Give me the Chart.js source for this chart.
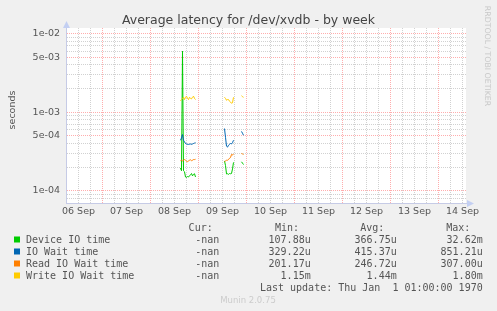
<!DOCTYPE html>
<html>
<head>
<meta charset="utf-8">
<script src="https://cdn.jsdelivr.net/npm/chart.js@4/dist/chart.umd.min.js"></script>
<style>
  html, body { margin: 0; padding: 0; background: #f0f0f0; }
  canvas { display: block; }
</style>
</head>
<body>
<canvas id="chart" width="497" height="311"></canvas>
<script>
// hours since 06 Sep 00:00, null rows break the line
const times = [
  63, 63.5, 64, 64.5, 65, 65.5, 66, 66.5, 67, 67.5, 68, 68.5, 69, 69.5, 70, 70.5, 71,
  85, 85.5, 86, 86.5, 87, 87.5, 88, 88.5, 89, 89.5, 90,
  93.5, 94, 94.5
];

const deviceIO = [
  1.95e-4, 1.8e-4, 6.0e-3, 1.8e-4, 1.75e-4, 1.5e-4, 1.48e-4, 1.52e-4, 1.5e-4, 1.55e-4, 1.6e-4, 1.66e-4, 1.55e-4, 1.62e-4, 1.65e-4, 1.5e-4, null,
  2.4e-4, 2.1e-4, 1.64e-4, 1.65e-4, 1.62e-4, 1.66e-4, 1.65e-4, 1.66e-4, 1.9e-4, 2.3e-4, null,
  2.34e-4, 2.25e-4, 2.16e-4
];
const ioWait = [
  4.4e-4, 4.7e-4, 5.2e-4, 4.4e-4, 4.2e-4, 4.0e-4, 3.95e-4, 3.9e-4, 3.9e-4, 3.92e-4, 3.95e-4, 3.9e-4, 3.95e-4, 4.0e-4, 4.05e-4, 4.1e-4, null,
  6.2e-4, 4.8e-4, 3.7e-4, 3.6e-4, 3.8e-4, 3.9e-4, 4.0e-4, 3.95e-4, 4.1e-4, 4.4e-4, null,
  5.7e-4, 5.4e-4, 5.1e-4
];
const readWait = [
  2.42e-4, 2.45e-4, 2.4e-4, 2.45e-4, 2.5e-4, 2.45e-4, 2.38e-4, 2.35e-4, 2.4e-4, 2.45e-4, 2.48e-4, 2.42e-4, 2.45e-4, 2.5e-4, 2.5e-4, 2.52e-4, null,
  2.36e-4, 2.4e-4, 2.45e-4, 2.45e-4, 2.5e-4, 2.6e-4, 2.65e-4, 2.9e-4, 2.85e-4, 2.95e-4, null,
  2.98e-4, 2.95e-4, 2.9e-4
];
const writeWait = [
  1.4e-3, 1.45e-3, 1.5e-3, 1.55e-3, 1.45e-3, 1.55e-3, 1.6e-3, 1.5e-3, 1.45e-3, 1.55e-3, 1.5e-3, 1.48e-3, 1.55e-3, 1.6e-3, 1.5e-3, 1.45e-3, null,
  1.55e-3, 1.5e-3, 1.42e-3, 1.45e-3, 1.45e-3, 1.38e-3, 1.35e-3, 1.3e-3, 1.32e-3, 1.55e-3, null,
  1.62e-3, 1.58e-3, 1.55e-3
];

const seriesNames = ['Device IO time', 'IO Wait time', 'Read IO Wait time', 'Write IO Wait time'];
const seriesColors = ['#00cc00', '#0066b3', '#ff8000', '#ffcc00'];
const curValues = ['-nan', '-nan', '-nan', '-nan'];
const minValues = ['107.88u', '329.22u', '201.17u', '1.15m'];
const avgValues = ['366.75u', '415.37u', '246.72u', '1.44m'];
const maxValues = ['32.62m', '851.21u', '307.00u', '1.80m'];

const dayLabels = ['06 Sep', '07 Sep', '08 Sep', '09 Sep', '10 Sep', '11 Sep', '12 Sep', '13 Sep', '14 Sep'];
const yMajorTicks = [1e-4, 5e-4, 1e-3, 5e-3, 1e-2];
const yMajorLabels = ['1e-04', '5e-04', '1e-03', '5e-03', '1e-02'];

const xMin = 5.75, xMax = 205.75;
const yMin = 7.42e-5, yMax = 1.18e-2;

const gridRed = 'rgba(255,0,0,0.32)';
const gridGray = 'rgba(120,120,120,0.34)';
const axisColor = '#c6cbe6';

function toPoints(vals) {
  return vals.map((v, i) => ({x: times[i], y: v}));
}

function majorIndex(v) {
  return yMajorTicks.findIndex(m => Math.abs(v / m - 1) < 1e-6);
}

const yTicks = [];
[1e-5, 1e-4, 1e-3, 1e-2].forEach(dec => {
  for (let m = 1; m <= 9; m++) {
    const v = m * dec;
    if (v >= yMin && v <= yMax * 1.0001) yTicks.push(v);
  }
});

const frame = {
  id: 'frame',
  beforeDraw(chart) {
    const {ctx, chartArea: a} = chart;
    ctx.save();
    ctx.fillStyle = '#f0f0f0';
    ctx.fillRect(0, 0, chart.width, chart.height);
    ctx.fillStyle = '#ffffff';
    ctx.fillRect(a.left, a.top, a.right - a.left, a.bottom - a.top);
    ctx.restore();
  },
  afterDraw(chart) {
    const {ctx, chartArea: a} = chart;
    ctx.save();

    // axis arrows
    ctx.fillStyle = '#c3cff2';
    const ax = a.left + 0.5;
    ctx.beginPath();
    ctx.moveTo(ax, a.top - 7);
    ctx.lineTo(ax - 3.5, a.top);
    ctx.lineTo(ax + 3.5, a.top);
    ctx.closePath();
    ctx.fill();
    const ay = a.bottom + 0.5;
    ctx.beginPath();
    ctx.moveTo(a.right + 8, ay);
    ctx.lineTo(a.right + 1, ay - 3.5);
    ctx.lineTo(a.right + 1, ay + 3.5);
    ctx.closePath();
    ctx.fill();

    // title
    ctx.fillStyle = '#444';
    ctx.font = '12.5px "DejaVu Sans"';
    ctx.textAlign = 'center';
    ctx.textBaseline = 'alphabetic';
    ctx.fillText('Average latency for /dev/xvdb - by week', 248.5, 23.5);

    // y axis unit
    ctx.save();
    ctx.translate(14.5, 110);
    ctx.rotate(-Math.PI / 2);
    ctx.font = '9.5px "DejaVu Sans"';
    ctx.fillStyle = '#555';
    ctx.fillText('seconds', 0, 0);
    ctx.restore();

    // rrdtool credit
    ctx.save();
    ctx.translate(484.5, 56);
    ctx.rotate(Math.PI / 2);
    ctx.font = '7.8px "DejaVu Sans"';
    ctx.fillStyle = '#c8c8c8';
    ctx.fillText('RRDTOOL / TOBI OETIKER', 0, 0);
    ctx.restore();

    // legend table
    ctx.font = '10px "DejaVu Sans Mono"';
    ctx.fillStyle = '#555';
    ctx.textAlign = 'right';
    ctx.fillText('Cur:', 212.7, 231);
    ctx.fillText('Min:', 299, 231);
    ctx.fillText('Avg:', 384.3, 231);
    ctx.fillText('Max:', 470.3, 231);
    seriesNames.forEach((name, i) => {
      const cy = 239.5 + i * 12;
      const by = cy + 3.7;
      ctx.fillStyle = seriesColors[i];
      ctx.fillRect(14, cy - 3, 6, 6);
      ctx.fillStyle = '#555';
      ctx.textAlign = 'left';
      ctx.fillText(name, 26, by);
      ctx.textAlign = 'right';
      ctx.fillText(curValues[i], 219.3, by);
      ctx.fillText(minValues[i], 310.7, by);
      ctx.fillText(avgValues[i], 396.7, by);
      ctx.fillText(maxValues[i], 482.7, by);
    });
    ctx.fillText('Last update: Thu Jan  1 01:00:00 1970', 482.7, 291);

    ctx.font = '8.5px "DejaVu Sans"';
    ctx.fillStyle = '#cccccc';
    ctx.textAlign = 'center';
    ctx.fillText('Munin 2.0.75', 248, 303);
    ctx.restore();
  }
};

const datasets = [writeWait, readWait, ioWait, deviceIO].map((vals, k) => {
  const i = 3 - k;
  return {
    label: seriesNames[i],
    data: toPoints(vals),
    borderColor: seriesColors[i],
    backgroundColor: seriesColors[i],
    borderWidth: 1,
    pointRadius: 0,
    tension: 0,
    spanGaps: false
  };
});

new Chart(document.getElementById('chart'), {
  type: 'line',
  data: {datasets: datasets},
  plugins: [frame],
  options: {
    responsive: false,
    devicePixelRatio: 1,
    animation: false,
    layout: {padding: {left: 0, right: 31, top: 28, bottom: 88}},
    plugins: {
      legend: {display: false},
      title: {display: false},
      tooltip: {enabled: false}
    },
    scales: {
      x: {
        type: 'linear',
        min: xMin,
        max: xMax,
        afterFit: (scale) => { scale.height = 20; },
        afterBuildTicks: (scale) => {
          const t = [];
          for (let h = 6; h <= 204; h += 6) t.push({value: h});
          scale.ticks = t;
        },
        ticks: {
          autoSkip: false,
          maxRotation: 0,
          padding: 3,
          color: '#555',
          font: {family: 'DejaVu Sans', size: 9.5},
          callback: (v) => (v % 24 === 12 ? dayLabels[(v - 12) / 24] : '')
        },
        grid: {
          drawTicks: false,
          color: (c) => (c.tick && c.tick.value % 24 === 0 ? gridRed : gridGray),
          lineWidth: 1
        },
        border: {color: axisColor, width: 1, dash: [1, 1]}
      },
      y: {
        type: 'logarithmic',
        min: yMin,
        max: yMax,
        afterFit: (scale) => { scale.width = 66; },
        afterBuildTicks: (scale) => {
          scale.ticks = yTicks.map(v => ({value: v}));
        },
        ticks: {
          autoSkip: false,
          padding: 6,
          color: '#555',
          font: {family: 'DejaVu Sans', size: 9.5},
          callback: (v) => {
            const k = majorIndex(v);
            return k >= 0 ? yMajorLabels[k] : '';
          }
        },
        grid: {
          drawTicks: false,
          color: (c) => (c.tick && majorIndex(c.tick.value) >= 0 ? gridRed : gridGray),
          lineWidth: 1
        },
        border: {color: axisColor, width: 1, dash: [1, 1]}
      }
    }
  }
});
</script>
</body>
</html>
